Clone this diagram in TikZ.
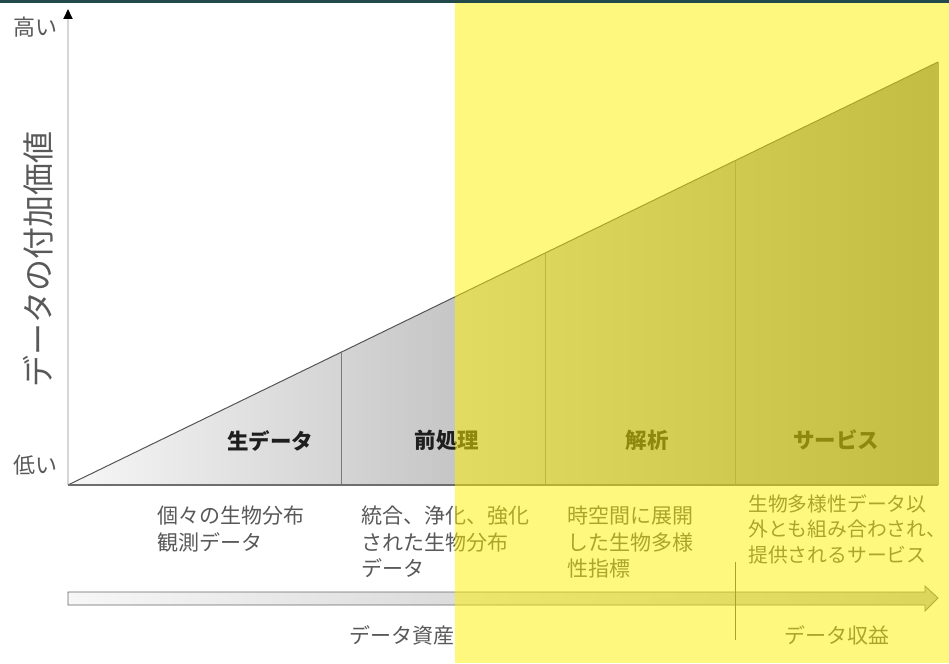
\documentclass[tikz,border=0pt]{standalone}
\usepackage{fontspec}
\setmainfont{Noto Sans CJK JP}
\usetikzlibrary{arrows.meta}
\definecolor{topband}{HTML}{24494A}
\definecolor{descgray}{HTML}{595959}
\definecolor{labdark}{HTML}{1E1E1E}
\definecolor{trileft}{HTML}{F7F7F7}
\definecolor{triright}{HTML}{888888}
\definecolor{edgegray}{HTML}{555555}
\definecolor{divgray}{HTML}{7A7A7A}
\definecolor{axisgray}{HTML}{D6D6D6}
\tikzset{
  desc/.style={anchor=north west, inner sep=0pt, align=left, text=descgray, font=\fontsize{21}{26.3}\selectfont},
  stagelab/.style={inner sep=0pt, text=labdark, font=\fontsize{21.5}{24}\selectfont\bfseries},
  axlab/.style={inner sep=0pt, text=descgray, font=\fontsize{22}{26}\selectfont},
  botlab/.style={inner sep=0pt, text=descgray, font=\fontsize{21}{24}\selectfont},
  divline/.style={draw=divgray, line width=0.8pt},
}
\begin{document}
\begin{tikzpicture}[x=1pt,y=-1pt]
\useasboundingbox (0,0) rectangle (949,663);
\fill[white] (0,0) rectangle (949,663);
% coordinates
\coordinate (O) at (68,485);
\coordinate (Top) at (68,9);
\coordinate (R) at (938,485);
\coordinate (RT) at (938,62);
\coordinate (d1b) at (341,485);
\coordinate (d1t) at (341,352.3);
\coordinate (d2b) at (545,485);
\coordinate (d2t) at (545,253.1);
\coordinate (d3b) at (735,485);
\coordinate (d3t) at (735,160.7);
% vertical axis
\draw[axisgray, line width=2pt, -{Triangle[color=black, length=10pt, width=9pt]}] (O) -- (Top);
% triangle
\shade[left color=trileft, right color=triright] (O) -- (RT) -- (R) -- cycle;
\draw[edgegray, line width=1pt] (O) -- (RT);
\draw[edgegray!70, line width=0.6pt] (RT) -- (R);
\draw[divline] (d1b) -- (d1t);
\draw[divline] (d2b) -- (d2t);
\draw[divline] (d3b) -- (d3t);
\draw[edgegray!85, line width=2pt] (O) -- (R);
% stage labels
\node[stagelab] (s1) at (270,441) {生データ};
\node[stagelab] (s2) at (447,440) {前処理};
\node[stagelab] (s3) at (647,440) {解析};
\node[stagelab] (s4) at (836,440) {サービス};
% axis labels
\node[axlab] (hi) at (35,27) {高い};
\node[axlab] (lo) at (35,465) {低い};
\node[axlab, font=\fontsize{32}{36}\selectfont, rotate=90] (yl) at (38,259) {データの付加価値};
% descriptions
\node[desc] (t1) at (157,506) {個々の生物分布\\観測データ};
\node[desc] (t2) at (361,506) {統合、浄化、強化\\された生物分布\\データ};
\node[desc] (t3) at (567,506) {時空間に展開\\した生物多様\\性指標};
\node[desc, font=\fontsize{19.8}{25.5}\selectfont] (t4) at (748,494) {生物多様性データ以\\外とも組み合わされ、\\提供されるサービス};
% bottom arrow
\coordinate (a0) at (68,598);
\coordinate (a1) at (938,598);
\shade[left color=trileft, right color=gray!55, draw=edgegray!90, line width=0.8pt]
  (68,592) -- (925,592) -- (925,586) -- (a1) -- (925,611) -- (925,605) -- (68,605) -- cycle;
\coordinate (sepT) at (735,562);
\coordinate (sepB) at (735,640);
\draw[edgegray, line width=0.8pt] (sepT) -- (sepB);
\node[botlab] (asset) at (402,635) {データ資産};
\node[botlab] (rev) at (837,635) {データ収益};
% yellow overlay
\fill[yellow, opacity=0.5] (455,3) rectangle (949,663);
% top band
\fill[topband] (0,0) rectangle (949,3);
\end{tikzpicture}
\end{document}
